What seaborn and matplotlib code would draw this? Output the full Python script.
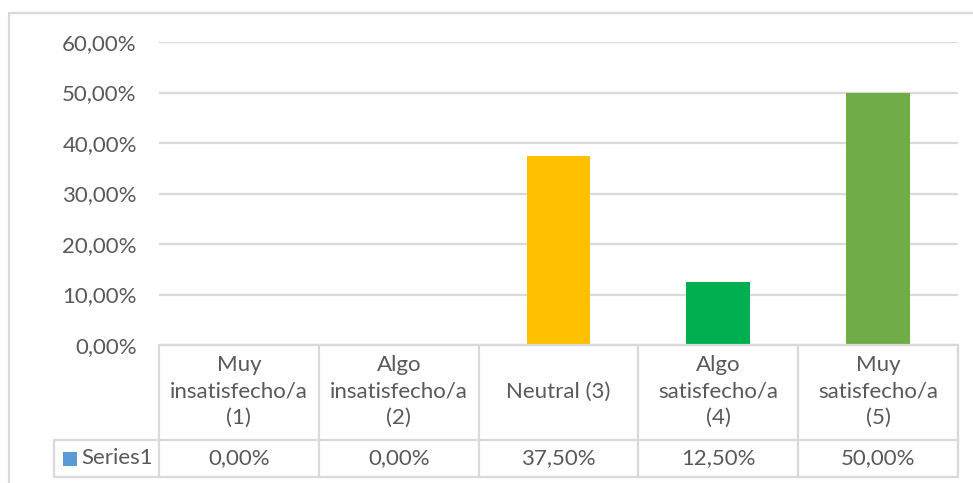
import matplotlib
matplotlib.use("Agg")
import matplotlib.pyplot as plt
from matplotlib.lines import Line2D
from matplotlib.patches import Rectangle
import seaborn as sns
import pandas as pd

# Survey results: satisfaction level share
categories = [
    "Muy\ninsatisfecho/a\n(1)",
    "Algo\ninsatisfecho/a\n(2)",
    "Neutral (3)",
    "Algo\nsatisfecho/a\n(4)",
    "Muy\nsatisfecho/a\n(5)",
]
values = [0.0, 0.0, 0.375, 0.125, 0.50]
bar_colors = ["#5B9BD5", "#ED7D31", "#FFC000", "#00B050", "#70AD47"]
series_name = "Series1"
y_ticks = [0.0, 0.1, 0.2, 0.3, 0.4, 0.5, 0.6]

TEXT = "#595959"
GRID = "#D9D9D9"
FONT = "Lato"
FS = 16

sns.set_theme(style="white")
plt.rcParams["font.family"] = [FONT, "DejaVu Sans"]

W, H = 973, 483
fig = plt.figure(figsize=(W / 100, H / 100), dpi=100)


def fx(px):
    return px / W


def fy(py):
    return 1 - py / H


# plot area
left, right, top, bottom = 159, 958, 42, 345
ax = fig.add_axes([fx(left), fy(bottom), fx(right) - fx(left), fy(top) - fy(bottom)])

df = pd.DataFrame({"cat": categories, "val": values})
sns.barplot(data=df, x="cat", y="val", hue="cat", palette=bar_colors,
            width=0.4, legend=False, ax=ax, saturation=1, linewidth=0, zorder=3)

ax.set_xlim(-0.5, len(categories) - 0.5)
ax.set_ylim(0, 0.6)
ax.set_yticks(y_ticks)
ax.set_yticklabels([f"{v * 100:.2f}%".replace(".", ",") for v in y_ticks],
                   color=TEXT, fontsize=FS)
ax.tick_params(axis="y", length=0, pad=16)
ax.set_xticks([])
ax.set_xlabel("")
ax.set_ylabel("")
for s in ax.spines.values():
    s.set_visible(False)
ax.yaxis.grid(True, color=GRID, linewidth=1.6, zorder=0)
ax.set_axisbelow(True)

# data table under the plot area
row1_bot, row2_bot = 440, 477
label_left = 54
col_w = (right - left) / len(categories)
lw = 1.6

def hline(y, x0, x1):
    fig.add_artist(Line2D([fx(x0), fx(x1)], [fy(y), fy(y)], color=GRID, lw=lw))

def vline(x, y0, y1):
    fig.add_artist(Line2D([fx(x), fx(x)], [fy(y0), fy(y1)], color=GRID, lw=lw))

hline(bottom, left, right)
hline(row1_bot, label_left, right)
hline(row2_bot, label_left, right)
vline(label_left, row1_bot, row2_bot)
for i in range(len(categories) + 1):
    vline(left + i * col_w, bottom, row2_bot)

for i, (c, v) in enumerate(zip(categories, values)):
    cx = left + (i + 0.5) * col_w
    fig.text(fx(cx), fy((bottom + row1_bot) / 2 - 1), c, ha="center", va="center",
             color=TEXT, fontsize=FS, linespacing=1.4)
    fig.text(fx(cx), fy((row1_bot + row2_bot) / 2),
             f"{v * 100:.2f}%".replace(".", ","), ha="center", va="center",
             color=TEXT, fontsize=FS)

# legend key in the table
fig.add_artist(Rectangle((fx(63), fy(466)), fx(14), fy(452) - fy(466),
                         facecolor="#5B9BD5", edgecolor="none"))
fig.text(fx(81), fy((row1_bot + row2_bot) / 2), series_name, ha="left",
         va="center", color=TEXT, fontsize=FS)

# chart frame
fig.add_artist(Line2D([fx(9), fx(9)], [fy(13), 0], color=GRID, lw=1.6))
fig.add_artist(Line2D([fx(9), 1], [fy(13), fy(13)], color=GRID, lw=1.6))

fig.savefig("out.png", dpi=100)
